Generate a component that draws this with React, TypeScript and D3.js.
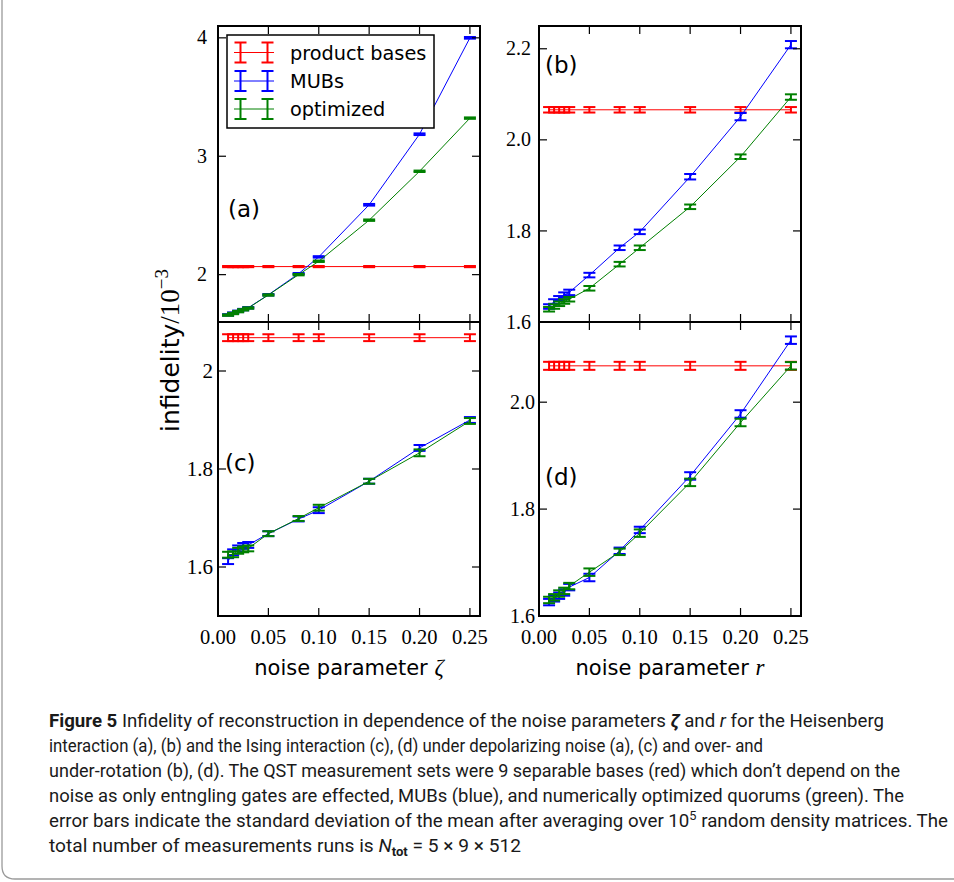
import React from 'react';
import * as d3 from 'd3';

// ---------- data ----------
const noiseX = [0.01, 0.015, 0.02, 0.025, 0.03, 0.05, 0.08, 0.1, 0.15, 0.2, 0.25];
const xTicks = [0, 0.05, 0.1, 0.15, 0.2, 0.25];
const xTickLabels = ['0.00', '0.05', '0.10', '0.15', '0.20', '0.25'];

// (a) Heisenberg, depolarizing noise
const productA = [2.068, 2.068, 2.068, 2.068, 2.068, 2.068, 2.068, 2.068, 2.068, 2.068, 2.068];
const mubA = [1.66, 1.675, 1.69, 1.705, 1.72, 1.83, 2.008, 2.15, 2.59, 3.186, 4.0];
const optA = [1.658, 1.672, 1.688, 1.703, 1.718, 1.828, 2.0, 2.113, 2.46, 2.873, 3.322];
const productAErr = [0.005, 0.005, 0.005, 0.005, 0.005, 0.005, 0.005, 0.005, 0.005, 0.005, 0.005];
const mubAErr = [0.006, 0.006, 0.006, 0.006, 0.006, 0.006, 0.006, 0.006, 0.007, 0.007, 0.007];
const optAErr = [0.006, 0.006, 0.006, 0.006, 0.006, 0.006, 0.006, 0.006, 0.006, 0.006, 0.006];

// (b) Heisenberg, over/under-rotation
const productB = [2.066, 2.066, 2.066, 2.066, 2.066, 2.066, 2.066, 2.066, 2.066, 2.066, 2.066];
const mubB = [1.634, 1.645, 1.652, 1.659, 1.665, 1.703, 1.763, 1.798, 1.919, 2.051, 2.209];
const optB = [1.628, 1.634, 1.64, 1.645, 1.65, 1.674, 1.727, 1.763, 1.853, 1.963, 2.094];
const productBErr = [0.006, 0.006, 0.006, 0.006, 0.006, 0.006, 0.006, 0.006, 0.006, 0.006, 0.006];
const mubBErr = [0.005, 0.005, 0.005, 0.006, 0.006, 0.005, 0.005, 0.005, 0.006, 0.008, 0.008];
const optBErr = [0.005, 0.005, 0.005, 0.005, 0.005, 0.005, 0.005, 0.005, 0.005, 0.005, 0.006];

// (c) Ising, depolarizing noise
const productC = [2.068, 2.068, 2.068, 2.068, 2.068, 2.068, 2.068, 2.068, 2.068, 2.068, 2.068];
const mubC = [1.612, 1.63, 1.638, 1.643, 1.645, 1.668, 1.698, 1.716, 1.775, 1.843, 1.9];
const optC = [1.625, 1.626, 1.633, 1.636, 1.638, 1.668, 1.699, 1.721, 1.775, 1.833, 1.898];
const productCErr = [0.007, 0.007, 0.007, 0.007, 0.007, 0.007, 0.007, 0.007, 0.007, 0.007, 0.007];
const mubCErr = [0.006, 0.006, 0.006, 0.006, 0.006, 0.005, 0.005, 0.006, 0.005, 0.006, 0.006];
const optCErr = [0.006, 0.006, 0.006, 0.006, 0.006, 0.005, 0.005, 0.006, 0.005, 0.007, 0.006];

// (d) Ising, over/under-rotation
const productD = [2.068, 2.068, 2.068, 2.068, 2.068, 2.068, 2.068, 2.068, 2.068, 2.068, 2.068];
const mubD = [1.626, 1.633, 1.638, 1.644, 1.654, 1.672, 1.722, 1.761, 1.862, 1.978, 2.116];
const optD = [1.63, 1.635, 1.642, 1.647, 1.656, 1.682, 1.72, 1.755, 1.85, 1.962, 2.068];
const productDErr = [0.0075, 0.0075, 0.0075, 0.0075, 0.0075, 0.0075, 0.0075, 0.0075, 0.0075, 0.0075, 0.0075];
const mubDErr = [0.006, 0.006, 0.006, 0.006, 0.006, 0.007, 0.006, 0.006, 0.007, 0.007, 0.007];
const optDErr = [0.006, 0.006, 0.006, 0.006, 0.006, 0.007, 0.006, 0.007, 0.007, 0.007, 0.007];

const seriesNames = ['product bases', 'MUBs', 'optimized'];
const seriesColors = ['#ff0000', '#0000ff', '#008000'];

const captionLines = [
  'interaction (a), (b) and the Ising interaction (c), (d) under depolarizing noise (a), (c) and over- and',
  'under-rotation (b), (d). The QST measurement sets were 9 separable bases (red) which don\u2019t depend on the',
  'noise as only entngling gates are effected, MUBs (blue), and numerically optimized quorums (green). The',
];

const SERIF = '"Liberation Serif", "DejaVu Serif", serif';
const SANS = '"DejaVu Sans", sans-serif';
const CAP = 'Roboto, "Liberation Sans", sans-serif';

type Series = { values: number[]; err: number[]; color: string };
type PanelDef = {
  left: number; right: number; top: number; bottom: number;
  yDomain: [number, number];
  yTicks: number[]; yTickLabels: string[];
  showXLabels: boolean;
  series: Series[];
  label: string; labelX: number; labelY: number;
  yFont: number; yGap: number;
};

const mk = (vals: number[][], errs: number[][]): Series[] =>
  vals.map((v, i) => ({ values: v, err: errs[i], color: seriesColors[i] }));

const panels: PanelDef[] = [
  {
    left: 218, right: 480, top: 26, bottom: 322, yDomain: [1.6, 4.1],
    yTicks: [2, 3, 4], yTickLabels: ['2', '3', '4'], showXLabels: false,
    series: mk([productA, mubA, optA], [productAErr, mubAErr, optAErr]),
    label: '(a)', labelX: 228, labelY: 217, yFont: 20, yGap: 11,
  },
  {
    left: 539, right: 801, top: 26, bottom: 322, yDomain: [1.6, 2.25],
    yTicks: [1.6, 1.8, 2.0, 2.2], yTickLabels: ['1.6', '1.8', '2.0', '2.2'], showXLabels: false,
    series: mk([productB, mubB, optB], [productBErr, mubBErr, optBErr]),
    label: '(b)', labelX: 545, labelY: 73, yFont: 20, yGap: 8,
  },
  {
    left: 218, right: 480, top: 322, bottom: 616, yDomain: [1.5, 2.1],
    yTicks: [1.6, 1.8, 2.0], yTickLabels: ['1.6', '1.8', '2'], showXLabels: true,
    series: mk([productC, mubC, optC], [productCErr, mubCErr, optCErr]),
    label: '(c)', labelX: 225, labelY: 471, yFont: 21, yGap: 5,
  },
  {
    left: 539, right: 801, top: 322, bottom: 616, yDomain: [1.6, 2.15],
    yTicks: [1.6, 1.8, 2.0], yTickLabels: ['1.6', '1.8', '2.0'], showXLabels: true,
    series: mk([productD, mubD, optD], [productDErr, mubDErr, optDErr]),
    label: '(d)', labelX: 545, labelY: 485, yFont: 20, yGap: 4,
  },
];

function Panel({ p }: { p: PanelDef }) {
  const x = d3.scaleLinear().domain([0, 0.26]).range([p.left, p.right]);
  const y = d3.scaleLinear().domain(p.yDomain).range([p.bottom, p.top]);
  const line = d3.line<number>().x((_, i) => x(noiseX[i])).y((v) => y(v));
  const capW = 6;
  const tick = 8;
  return (
    <g>
      {p.series.map((s, si) => (
        <g key={si}>
          <path d={line(s.values) || ''} fill="none" stroke={s.color} strokeWidth={1} />
          {s.values.map((v, i) => {
            const cx = x(noiseX[i]);
            const yt = y(v + s.err[i]);
            const yb = y(v - s.err[i]);
            return (
              <g key={i} stroke={s.color} strokeWidth={2}>
                <line x1={cx} x2={cx} y1={yt} y2={yb} />
                <line x1={cx - capW} x2={cx + capW} y1={yt} y2={yt} />
                <line x1={cx - capW} x2={cx + capW} y1={yb} y2={yb} />
              </g>
            );
          })}
        </g>
      ))}
      <text x={p.labelX} y={p.labelY} fontFamily={SANS} fontSize={23} fill="#000">{p.label}</text>
      {xTicks.map((t, i) => (
        <g key={'xt' + i} stroke="#000" strokeWidth={1.2}>
          <line x1={x(t)} x2={x(t)} y1={p.bottom} y2={p.bottom - tick} />
          <line x1={x(t)} x2={x(t)} y1={p.top} y2={p.top + tick} />
        </g>
      ))}
      {p.yTicks.map((t, i) => (
        <g key={'yt' + i}>
          <line x1={p.left} x2={p.left + tick} y1={y(t)} y2={y(t)} stroke="#000" strokeWidth={1.2} />
          <line x1={p.right} x2={p.right - tick} y1={y(t)} y2={y(t)} stroke="#000" strokeWidth={1.2} />
          <text x={p.left - p.yGap} y={y(t)} dy="0.33em" textAnchor="end" fontFamily={SERIF} fontSize={p.yFont}>
            {p.yTickLabels[i]}
          </text>
        </g>
      ))}
      {p.showXLabels &&
        xTicks.map((t, i) => (
          <text key={'xl' + i} x={x(t)} y={644} textAnchor="middle" fontFamily={SERIF} fontSize={20.5}>
            {xTickLabels[i]}
          </text>
        ))}
      <rect x={p.left} y={p.top} width={p.right - p.left} height={p.bottom - p.top} fill="none" stroke="#000" strokeWidth={2} />
    </g>
  );
}

function Legend() {
  const rows = [52.5, 81, 109];
  return (
    <g>
      <rect x={227} y={35} width={207} height={93} fill="#fff" stroke="#000" strokeWidth={1.5} />
      {seriesNames.map((n, i) => (
        <g key={n}>
          <line x1={234} x2={274} y1={rows[i]} y2={rows[i]} stroke={seriesColors[i]} strokeWidth={1} />
          {[240.5, 267.5].map((cx) => (
            <g key={cx} stroke={seriesColors[i]} strokeWidth={2}>
              <line x1={cx} x2={cx} y1={rows[i] - 10} y2={rows[i] + 10} />
              <line x1={cx - 6} x2={cx + 6} y1={rows[i] - 10} y2={rows[i] - 10} />
              <line x1={cx - 6} x2={cx + 6} y1={rows[i] + 10} y2={rows[i] + 10} />
            </g>
          ))}
          <text x={290} y={rows[i] + 7} fontFamily={SANS} fontSize={19.3}>{n}</text>
        </g>
      ))}
    </g>
  );
}

export default function App() {
  return (
    <svg width={954} height={882} style={{ position: 'absolute', left: 0, top: 0, background: '#fff' }}>
      <rect x={0} y={0} width={954} height={882} fill="#fff" />
      <path d="M2,-10 V866 Q2,879 15,879 H970" fill="none" stroke="#9a9a9a" strokeWidth={1.3} />
      {panels.map((p, i) => <Panel key={i} p={p} />)}
      <Legend />
      {/* y label */}
      <text transform="translate(179,432) rotate(-90)" fontSize={25}>
        <tspan fontFamily={SANS}>infidelity</tspan>
        <tspan fontFamily={SERIF} fontSize={27}>/10</tspan>
        <tspan fontFamily={SERIF} fontSize={19} dy={-11}>{'\u22123'}</tspan>
      </text>
      {/* x labels */}
      <text x={349} y={675} textAnchor="middle" fontSize={21}>
        <tspan fontFamily={SANS}>noise parameter </tspan>
        <tspan fontFamily={SERIF} fontStyle="italic" fontSize={23}>{'\u03B6'}</tspan>
      </text>
      <text x={670} y={675} textAnchor="middle" fontSize={21}>
        <tspan fontFamily={SANS}>noise parameter </tspan>
        <tspan fontFamily={SERIF} fontStyle="italic" fontSize={23}>r</tspan>
      </text>
      {/* caption */}
      <g fontFamily={CAP} fontSize={17.5} fill="#1a1a1a">
        <text x={49} y={727} textLength={835} lengthAdjust="spacingAndGlyphs">
          <tspan fontWeight="bold">Figure 5</tspan>
          <tspan>{'  Infidelity of reconstruction in dependence of the noise parameters '}</tspan>
          <tspan fontStyle="italic" fontWeight="bold">{'\u03B6'}</tspan>
          <tspan>{' and '}</tspan>
          <tspan fontStyle="italic">r</tspan>
          <tspan>{' for the Heisenberg'}</tspan>
        </text>
        <text x={49} y={752} textLength={714} lengthAdjust="spacingAndGlyphs">{captionLines[0]}</text>
        <text x={49} y={777} textLength={851} lengthAdjust="spacingAndGlyphs">{captionLines[1]}</text>
        <text x={49} y={802} textLength={855} lengthAdjust="spacingAndGlyphs">{captionLines[2]}</text>
        <text x={49} y={827} textLength={899} lengthAdjust="spacingAndGlyphs">
          <tspan>{'error bars indicate the standard deviation of the mean after averaging over 10'}</tspan>
          <tspan fontSize={12} dy={-7}>5</tspan>
          <tspan dy={7}>{' random density matrices. The'}</tspan>
        </text>
        <text x={49} y={852} textLength={472} lengthAdjust="spacingAndGlyphs">
          <tspan>{'total number of measurements runs is '}</tspan>
          <tspan fontStyle="italic">N</tspan>
          <tspan fontSize={12} fontWeight="bold" dy={4}>tot</tspan>
          <tspan dy={-4}>{' = 5 \u00D7 9 \u00D7 512'}</tspan>
        </text>
      </g>
    </svg>
  );
}
